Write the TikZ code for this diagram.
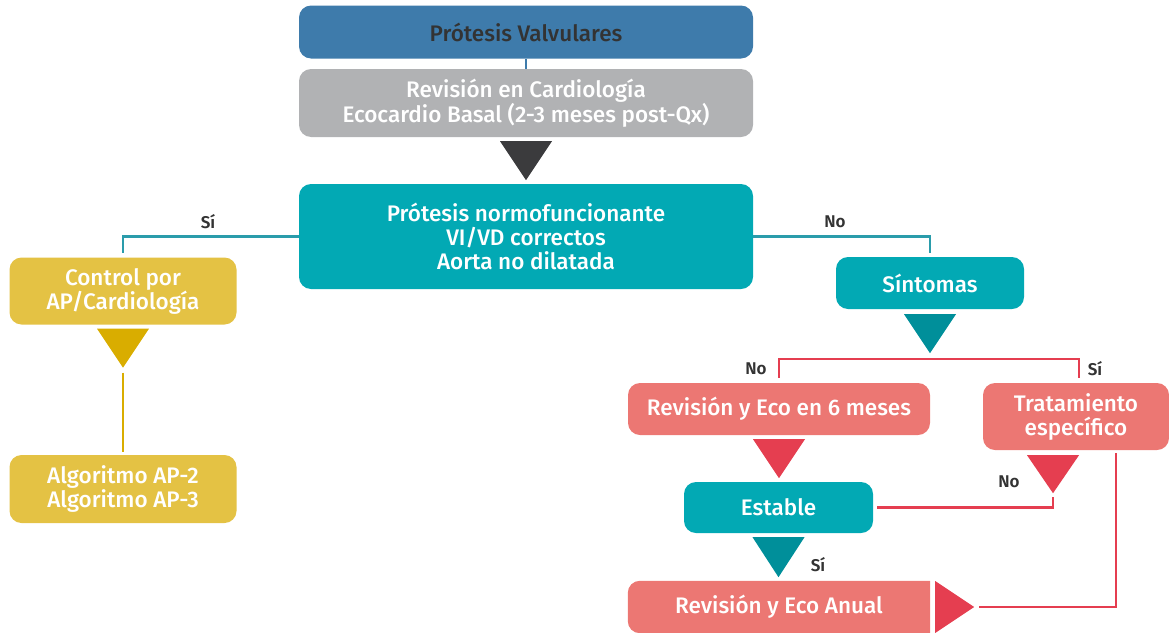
\documentclass[tikz,border=0pt]{standalone}
\usepackage{fontspec}
\setmainfont{Fira Sans}[UprightFont=* Medium, BoldFont=* SemiBold]
\usetikzlibrary{calc}

\definecolor{topblue}{HTML}{3E7BAB}
\definecolor{boxgray}{HTML}{B1B2B4}
\definecolor{arrowdark}{HTML}{3B3B3D}
\definecolor{teal}{HTML}{02A9B4}
\definecolor{tealdark}{HTML}{008F9A}
\definecolor{tealline}{HTML}{2A9CAB}
\definecolor{gold}{HTML}{E4C244}
\definecolor{golddark}{HTML}{D9AD00}
\definecolor{salmon}{HTML}{EC7773}
\definecolor{redline}{HTML}{E53E50}
\definecolor{labeltext}{HTML}{333333}

\begin{document}
\begin{tikzpicture}[x=1pt,y=-1pt,
  box/.style={rounded corners=12pt, align=center, inner sep=0pt,
    text=white, font=\fontsize{22.5}{24}\selectfont},
  lab/.style={text=labeltext, font=\fontsize{17}{20}\bfseries, inner sep=0pt},
  link/.style={line width=2.2pt},
]
\useasboundingbox (0,0) rectangle (1169,632);

% ---- main column ----
\node[box, fill=topblue, text=labeltext, minimum width=454pt, minimum height=53pt]
  (top) at (526,32) {Prótesis Valvulares};
\node[box, fill=boxgray, minimum width=454pt, minimum height=68pt]
  (rev) at (526,103) {Revisión en Cardiología\\Ecocardio Basal (2-3 meses post-Qx)};
\node[box, fill=teal, minimum width=454pt, minimum height=105pt]
  (norm) at (526,236.5) {Prótesis normofuncionante\\VI/VD correctos\\Aorta no dilatada};

% ---- left branch ----
\node[box, fill=gold, minimum width=227pt, minimum height=67pt]
  (ctrl) at (123,291) {Control por\\AP/Cardiología};
\node[box, fill=gold, minimum width=227pt, minimum height=68pt]
  (algo) at (123,489) {Algoritmo AP-2\\Algoritmo AP-3};

% ---- right branch ----
\node[box, fill=teal, minimum width=188pt, minimum height=52pt]
  (sint) at (930,283) {Síntomas};
\node[box, fill=salmon, minimum width=302pt, minimum height=52pt]
  (seis) at (779,409) {Revisión y Eco en 6 meses};
\node[box, fill=salmon, minimum width=186pt, minimum height=67pt]
  (trat) at (1076,416.5) {Tratamiento\\específico};
\node[box, fill=teal, minimum width=189pt, minimum height=51pt]
  (estable) at (778.5,507.5) {Estable};
\node[box, minimum width=302pt, minimum height=52pt]
  (anual) at (779,607) {};
\fill[salmon] (anual.north east) [rounded corners=12pt] -- (anual.north west)
  -- (anual.south west) [sharp corners] -- (anual.south east) -- cycle;
\node[box] at (anual.center) {Revisión y Eco Anual};

% ---- connectors ----
\draw[topblue, line width=2pt] (top.south) -- (rev.north);

% dark arrowhead
\fill[arrowdark] ($(rev.south)+(-26,4)$) -- ++(52,0) -- ($(rev.south)+(0,43)$) -- cycle;

\coordinate (ctrltop) at ($(ctrl.north)+(0,-4)$);
\coordinate (sinttop) at ($(sint.north)+(0,-4)$);
\draw[tealline, link] (norm.west) -| (ctrltop);
\draw[tealline, link] (norm.east) -| (sinttop);
\node[lab] (lsi1) at (208,222) {Sí};
\node[lab] (lno1) at (835,222) {No};

% yellow branch
\fill[golddark] ($(ctrl.south)+(-26,4)$) -- ++(52,0) -- ($(ctrl.south)+(0,43)$) -- cycle;
\coordinate (ctrlarrow) at ($(ctrl.south)+(0,48)$);
\coordinate (algotop) at ($(algo.north)+(0,-3)$);
\draw[golddark, link] (ctrlarrow) -- (algotop);

% symptoms split
\fill[tealdark] ($(sint.south)+(-26,5)$) -- ++(52,0) -- ($(sint.south)+(0,44)$) -- cycle;
\coordinate (split) at (930,359);
\coordinate (seistop) at ($(seis.north)+(0,-5)$);
\coordinate (trattop) at ($(trat.north)+(3,-5)$);
\draw[redline, link] (seistop) |- (split) -| (trattop);
\node[lab] (lno2) at (756,369) {No};
\node[lab] (lsi2) at (1095,369) {Sí};

% six-month review to stable
\fill[redline] ($(seis.south)+(-26,4)$) -- ++(52,0) -- ($(seis.south)+(0,43)$) -- cycle;

% treatment arrowhead and return from stable
\coordinate (tratarrow) at ($(trat.south)+(-23,0)$);
\fill[redline] ($(tratarrow)+(-26,5)$) -- ++(52,0) -- ($(tratarrow)+(0,43)$) -- cycle;
\coordinate (tratapex) at ($(tratarrow)+(0,47)$);
\draw[redline, link] ([xshift=4pt]estable.east) -| (tratapex);
\node[lab] (lno3) at (1009,482) {No};

% stable to annual review
\fill[tealdark] ($(estable.south)+(-26,4)$) -- ++(52,0) -- ($(estable.south)+(0,44)$) -- cycle;
\node[lab] (lsi3) at (818,565) {Sí};

% treatment to annual review
\coordinate (tratside) at ($(trat.south)+(40,3)$);
\coordinate (anualtip) at ($(anual.east)+(49,0)$);
\fill[redline] ($(anual.east)+(5,-26)$) -- ($(anual.east)+(44,0)$) -- ($(anual.east)+(5,26)$) -- cycle;
\draw[redline, link] (tratside) |- (anualtip);
\end{tikzpicture}
\end{document}
